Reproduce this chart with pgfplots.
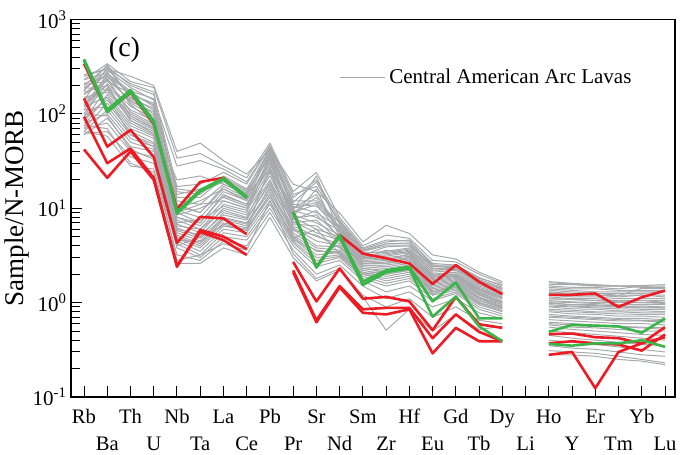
\documentclass[border=0pt]{standalone}
\usepackage{fontspec}
\setmainfont{Liberation Serif}
\usepackage{pgfplots}
\pgfplotsset{compat=1.18}
\definecolor{arcgray}{RGB}{167,169,172}
\definecolor{sred}{RGB}{237,28,36}
\definecolor{sgreen}{RGB}{57,181,74}
\pgfplotsset{
  gl/.style={arcgray, line width=0.5pt, line join=round},
  rl/.style={sred, line width=1.3pt, line join=round, forget plot},
  grl/.style={sgreen, line width=1.3pt, line join=round, forget plot},
}
\begin{document}
\begin{tikzpicture}
\useasboundingbox (-35.5pt,-29pt) rectangle (305pt,198.5pt);
\begin{axis}[
  scale only axis, width=302pt, height=188.75pt,
  at={(0,0)}, anchor=south west,
  xmin=-0.56, xmax=25.43,
  ymode=log, ymin=0.1, ymax=1000,
  unbounded coords=jump,
  axis line style={line width=0.75pt},
  tick align=inside, xtick pos=bottom, ytick pos=left,
  major tick length=5.5pt, minor tick length=4.5pt,
  tick style={black, line width=0.5pt},
  xtick={0,2,...,24},
  xticklabels={Rb,Th,Nb,La,Pb,Sr,Sm,Hf,Gd,Dy,Ho,Er,Yb},
  extra x ticks={1,3,...,25},
  extra x tick labels={\raisebox{-13pt}{Ba},\raisebox{-13pt}{U},\raisebox{-13pt}{Ta},\raisebox{-13pt}{Ce},\raisebox{-13pt}{Pr},\raisebox{-13pt}{Nd},\raisebox{-13pt}{Zr},\raisebox{-13pt}{Eu},\raisebox{-13pt}{Tb},\raisebox{-13pt}{Li},\raisebox{-13pt}{Y},\raisebox{-13pt}{Tm},\raisebox{-13pt}{Lu}},
  extra x tick style={grid=none},
  xticklabel style={anchor=base, yshift=-13.5pt, font=\fontsize{10.3}{12}\selectfont},
  ytick={0.1,1,10,100,1000},
  yticklabels={10\textsuperscript{-1},10\textsuperscript{0},10\textsuperscript{1},10\textsuperscript{2},10\textsuperscript{3}},
  minor ytick={0.2,0.3,0.4,0.5,0.6,0.7,0.8,0.9,2,3,4,5,6,7,8,9,20,30,40,50,60,70,80,90,200,300,400,500,600,700,800,900},
  yticklabel style={font=\fontsize{10.5}{12}\selectfont, xshift=1.5pt},
  ylabel={Sample/N-MORB},
  ylabel style={at={(axis description cs:-0.0894,0.5)}, anchor=center, font=\fontsize{13.5}{16}\selectfont},
  legend style={draw=none, fill=none, at={(0.4338,0.8458)}, anchor=west,
    font=\fontsize{10.5}{12}\selectfont},
  legend image code/.code={\draw[#1] (0pt,0pt) -- (22.5pt,0pt);},
]
\addlegendimage{gl}
\addlegendentry{Central American Arc Lavas}

% Central American arc lavas (Rb ... Dy, gap at Li, Ho ... Lu)
\addplot[gl, forget plot] coordinates {(0,250)(1,300)(2,250)(3,200)(4,40)(5,49)(6,32)(7,23)(8,42)(9,18)(10,15)(11,8.9)(12,4.4)(13,6.6)(14,5.4)(15,3.2)(16,2.9)(17,2.1)(18,1.67)(19,nan)(20,1.67)(21,1.6)(22,1.55)(23,1.5)(24,1.5)(25,1.5)};
\addplot[gl, forget plot] coordinates {(0,230)(1,340)(2,220)(3,190)(4,34)(5,38)(6,28)(7,21)(8,49)(9,15)(10,24)(11,8)(12,4)(13,5.2)(14,4.8)(15,2.8)(16,2.7)(17,2.0)(18,1.6)(19,nan)(20,1.55)(21,1.55)(22,1.5)(23,1.5)(24,1.45)(25,1.45)};
\addplot[gl, forget plot] coordinates {(0,200)(1,320)(2,200)(3,160)(4,17)(5,18)(6,24)(7,18)(8,45)(9,13)(10,20)(11,7.5)(12,3.8)(13,4.6)(14,4.5)(15,2.6)(16,2.5)(17,1.85)(18,1.5)(19,nan)(20,1.5)(21,1.45)(22,1.45)(23,1.4)(24,1.5)(25,1.4)};
\addplot[gl, forget plot] coordinates {(0,180)(1,290)(2,190)(3,140)(4,15)(5,14)(6,22)(7,16)(8,40)(9,12)(10,12)(11,7)(12,3.6)(13,4.2)(14,4.3)(15,2.4)(16,2.4)(17,1.75)(18,1.45)(19,nan)(20,1.45)(21,1.4)(22,1.4)(23,1.35)(24,1.35)(25,1.35)};
\addplot[gl, forget plot] coordinates {(0,160)(1,270)(2,160)(3,130)(4,14)(5,16)(6,20)(7,15)(8,35)(9,11)(10,10.5)(11,6.5)(12,3.5)(13,4)(14,4)(15,2.3)(16,2.3)(17,1.7)(18,1.4)(19,nan)(20,1.4)(21,1.35)(22,1.3)(23,1.3)(24,1.3)(25,1.3)};
\addplot[gl, forget plot] coordinates {(0,210)(1,250)(2,170)(3,120)(4,12)(5,11)(6,18)(7,14)(8,38)(9,10.5)(10,9)(11,6.2)(12,3.3)(13,3.5)(14,3.8)(15,2.2)(16,2.3)(17,1.6)(18,1.35)(19,nan)(20,1.35)(21,1.3)(22,1.25)(23,1.25)(24,1.25)(25,1.3)};
\addplot[gl, forget plot] coordinates {(0,140)(1,310)(2,150)(3,110)(4,11)(5,9)(6,17)(7,13)(8,44)(9,10)(10,14)(11,6)(12,3.2)(13,3.3)(14,3.6)(15,2.1)(16,2.2)(17,1.55)(18,1.3)(19,nan)(20,1.3)(21,1.25)(22,1.25)(23,1.2)(24,1.2)(25,1.2)};
\addplot[gl, forget plot] coordinates {(0,120)(1,230)(2,140)(3,100)(4,10)(5,12)(6,16)(7,12.5)(8,30)(9,9.5)(10,8)(11,5.8)(12,3.1)(13,3.2)(14,3.5)(15,2)(16,2.1)(17,1.5)(18,1.28)(19,nan)(20,1.25)(21,1.2)(22,1.2)(23,1.15)(24,1.2)(25,1.15)};
\addplot[gl, forget plot] coordinates {(0,190)(1,260)(2,130)(3,95)(4,9.5)(5,8)(6,15)(7,12)(8,32)(9,9)(10,11)(11,5.5)(12,3)(13,3.1)(14,3.4)(15,1.95)(16,2.1)(17,1.45)(18,1.25)(19,nan)(20,1.2)(21,1.15)(22,1.15)(23,1.1)(24,1.1)(25,1.1)};
\addplot[gl, forget plot] coordinates {(0,100)(1,210)(2,120)(3,90)(4,9)(5,7)(6,14)(7,11)(8,27)(9,8.5)(10,7)(11,5.2)(12,2.9)(13,3)(14,3.2)(15,1.9)(16,2)(17,1.4)(18,1.2)(19,nan)(20,1.15)(21,1.1)(22,1.1)(23,1.05)(24,1.05)(25,1.05)};
\addplot[gl, forget plot] coordinates {(0,170)(1,200)(2,110)(3,85)(4,8.5)(5,10)(6,13)(7,10.5)(8,36)(9,8)(10,6)(11,5)(12,2.8)(13,2.9)(14,3.1)(15,1.85)(16,2)(17,1.38)(18,1.15)(19,nan)(20,1.1)(21,1.08)(22,1.05)(23,1.05)(24,1)(25,1.05)};
\addplot[gl, forget plot] coordinates {(0,90)(1,280)(2,125)(3,80)(4,8)(5,6.5)(6,12)(7,10)(8,25)(9,7.5)(10,9.5)(11,4.8)(12,2.7)(13,2.8)(14,3)(15,1.8)(16,1.95)(17,1.35)(18,1.12)(19,nan)(20,1.05)(21,1.02)(22,1)(23,1)(24,1)(25,0.98)};
\addplot[gl, forget plot] coordinates {(0,130)(1,180)(2,100)(3,75)(4,7.5)(5,6)(6,11)(7,9.5)(8,22)(9,7.2)(10,5.5)(11,4.6)(12,2.6)(13,2.7)(14,2.9)(15,1.75)(16,1.9)(17,1.3)(18,1.1)(19,nan)(20,1.02)(21,1)(22,0.98)(23,0.95)(24,0.95)(25,0.95)};
\addplot[gl, forget plot] coordinates {(0,110)(1,240)(2,95)(3,70)(4,7)(5,7.5)(6,10.5)(7,9)(8,34)(9,7)(10,7.5)(11,4.5)(12,2.6)(13,2.6)(14,2.8)(15,1.7)(16,1.85)(17,1.28)(18,1.05)(19,nan)(20,1)(21,0.95)(22,0.95)(23,0.92)(24,0.92)(25,0.9)};
\addplot[gl, forget plot] coordinates {(0,150)(1,170)(2,90)(3,68)(4,6.8)(5,5.5)(6,10)(7,8.5)(8,20)(9,6.8)(10,6.5)(11,4.4)(12,2.5)(13,2.5)(14,2.7)(15,1.65)(16,1.8)(17,1.25)(18,1.02)(19,nan)(20,0.95)(21,0.92)(22,0.9)(23,0.9)(24,0.88)(25,0.88)};
\addplot[gl, forget plot] coordinates {(0,85)(1,190)(2,85)(3,65)(4,6.5)(5,6)(6,9.5)(7,8)(8,24)(9,6.5)(10,5)(11,4.2)(12,2.5)(13,2.4)(14,2.6)(15,1.6)(16,1.75)(17,1.22)(18,1)(19,nan)(20,0.92)(21,0.9)(22,0.88)(23,0.86)(24,0.85)(25,0.85)};
\addplot[gl, forget plot] coordinates {(0,75)(1,160)(2,80)(3,60)(4,6.2)(5,5)(6,9)(7,7.8)(8,18)(9,6.2)(10,4.5)(11,4)(12,2.4)(13,2.3)(14,2.5)(15,1.55)(16,1.7)(17,1.2)(18,0.98)(19,nan)(20,0.9)(21,0.86)(22,0.85)(23,0.82)(24,0.82)(25,0.8)};
\addplot[gl, forget plot] coordinates {(0,120)(1,150)(2,75)(3,58)(4,6)(5,5.2)(6,8.5)(7,7.5)(8,19)(9,6)(10,4)(11,3.9)(12,2.3)(13,2.2)(14,2.4)(15,1.5)(16,1.65)(17,1.15)(18,0.95)(19,nan)(20,0.85)(21,0.83)(22,0.8)(23,0.8)(24,0.78)(25,0.78)};
\addplot[gl, forget plot] coordinates {(0,95)(1,140)(2,70)(3,55)(4,5.8)(5,4.8)(6,8)(7,7)(8,16)(9,5.8)(10,5.2)(11,3.8)(12,2.3)(13,2.1)(14,2.3)(15,1.45)(16,1.6)(17,1.12)(18,0.92)(19,nan)(20,0.82)(21,0.8)(22,0.78)(23,0.76)(24,0.75)(25,0.75)};
\addplot[gl, forget plot] coordinates {(0,70)(1,130)(2,65)(3,50)(4,5.5)(5,4.5)(6,7.8)(7,6.8)(8,15)(9,5.5)(10,3.8)(11,3.6)(12,2.2)(13,2)(14,2.2)(15,1.4)(16,1.55)(17,1.1)(18,0.9)(19,nan)(20,0.8)(21,0.76)(22,0.75)(23,0.72)(24,0.72)(25,0.7)};
\addplot[gl, forget plot] coordinates {(0,110)(1,120)(2,60)(3,48)(4,5.2)(5,4.2)(6,7.5)(7,6.5)(8,17)(9,5.2)(10,3.5)(11,3.5)(12,2.1)(13,1.9)(14,2.1)(15,1.35)(16,1.5)(17,1.05)(18,0.88)(19,nan)(20,0.75)(21,0.72)(22,0.7)(23,0.68)(24,0.68)(25,0.66)};
\addplot[gl, forget plot] coordinates {(0,65)(1,110)(2,55)(3,45)(4,5)(5,4)(6,7)(7,6.2)(8,14)(9,5)(10,3.2)(11,3.4)(12,2)(13,1.8)(14,2)(15,1.3)(16,1.45)(17,1)(18,0.85)(19,nan)(20,0.7)(21,0.68)(22,0.66)(23,0.64)(24,0.64)(25,0.62)};
\addplot[gl, forget plot] coordinates {(0,80)(1,100)(2,50)(3,42)(4,4.8)(5,3.8)(6,6.5)(7,6)(8,13)(9,4.8)(10,3)(11,3.2)(12,2)(13,1.7)(14,1.9)(15,1.25)(16,1.4)(17,0.98)(18,0.82)(19,nan)(20,0.66)(21,0.64)(22,0.62)(23,0.6)(24,0.6)(25,0.58)};
\addplot[gl, forget plot] coordinates {(0,60)(1,90)(2,45)(3,40)(4,4.5)(5,3.5)(6,6)(7,5.5)(8,12)(9,4.5)(10,2.8)(11,3.1)(12,1.9)(13,1.6)(14,1.8)(15,1.2)(16,1.35)(17,0.95)(18,0.8)(19,nan)(20,0.62)(21,0.6)(22,0.58)(23,0.56)(24,0.55)(25,0.54)};
\addplot[gl, forget plot] coordinates {(0,70)(1,80)(2,40)(3,35)(4,4.2)(5,3.2)(6,5.5)(7,5)(8,11)(9,4.3)(10,2.6)(11,3)(12,1.8)(13,1.5)(14,1.7)(15,1.1)(16,1.3)(17,0.9)(18,0.76)(19,nan)(20,0.58)(21,0.55)(22,0.54)(23,0.52)(24,0.5)(25,0.5)};
\addplot[gl, forget plot] coordinates {(0,62)(1,65)(2,35)(3,30)(4,3.8)(5,3)(6,5)(7,4.6)(8,10)(9,4)(10,2.4)(11,2.8)(12,1.7)(13,1.3)(14,1.5)(15,1.05)(16,1.25)(17,0.85)(18,0.72)(19,nan)(20,0.55)(21,0.52)(22,0.5)(23,0.48)(24,0.46)(25,0.45)};
\addplot[gl, forget plot] coordinates {(0,65)(1,58)(2,28)(3,26)(4,3.2)(5,2.8)(6,4.5)(7,4)(8,9)(9,3.6)(10,2)(11,2.5)(12,1.5)(13,1.1)(14,1.3)(15,0.9)(16,1.1)(17,0.78)(18,0.68)(19,nan)(20,0.5)(21,0.48)(22,0.46)(23,0.44)(24,0.42)(25,0.4)};
\addplot[gl, forget plot] coordinates {(0,75)(1,70)(2,30)(3,24)(4,2.6)(5,2.6)(6,3.8)(7,3.2)(8,8)(9,3)(10,1.7)(11,2.2)(12,1.2)(13,0.9)(14,1.1)(15,0.7)(16,0.9)(17,0.65)(18,0.6)(19,nan)(20,0.45)(21,0.42)(22,0.4)(23,0.38)(24,0.36)(25,0.35)};
\addplot[gl, forget plot] coordinates {(0,100)(1,95)(2,42)(3,33)(4,2.8)(5,3.2)(6,4.2)(7,3.6)(8,12)(9,3.3)(10,1.8)(11,2.3)(12,1.15)(13,0.51)(14,0.85)(15,0.5)(16,0.75)(17,0.52)(18,0.56)(19,nan)(20,0.4)(21,0.38)(22,0.36)(23,0.34)(24,0.32)(25,0.3)};
\addplot[gl, forget plot] coordinates {(0,140)(1,200)(2,85)(3,62)(4,4)(5,5)(6,6.5)(7,5.8)(8,28)(9,4.8)(10,6)(11,3.3)(12,2)(13,2)(14,2.2)(15,1.3)(16,1.5)(17,1.05)(18,0.9)(19,nan)(20,0.35)(21,0.33)(22,0.32)(23,0.3)(24,0.28)(25,0.27)};
\addplot[gl, forget plot] coordinates {(0,160)(1,230)(2,105)(3,78)(4,9)(5,11)(6,12)(7,10)(8,30)(9,7.8)(10,8.5)(11,5)(12,2.9)(13,3.6)(14,3.3)(15,1.2)(16,1.7)(17,1.1)(18,1)(19,nan)(20,0.31)(21,0.3)(22,0.29)(23,0.27)(24,0.25)(25,0.23)};
\addplot[gl, forget plot] coordinates {(0,190)(1,180)(2,95)(3,72)(4,20)(5,22)(6,18)(7,14)(8,26)(9,9)(10,13)(11,5.8)(12,3.2)(13,3.9)(14,4)(15,2.5)(16,2.3)(17,1.6)(18,1.3)(19,nan)(20,0.28)(21,0.28)(22,0.27)(23,0.25)(24,0.24)(25,0.22)};
\addplot[gl, forget plot] coordinates {(0,230)(1,270)(2,175)(3,145)(4,28)(5,32)(6,26)(7,19)(8,46)(9,14)(10,17)(11,7.2)(12,3.7)(13,4.4)(14,4.6)(15,2.5)(16,2.5)(17,1.8)(18,1.55)(19,nan)(20,1.62)(21,1.58)(22,1.52)(23,1.5)(24,1.52)(25,1.55)};
\addplot[gl, forget plot] coordinates {(0,175)(1,330)(2,145)(3,115)(4,10.5)(5,9)(6,16)(7,12)(8,40)(9,9.5)(10,22)(11,5.6)(12,3.1)(13,2.8)(14,3.3)(15,2)(16,2)(17,1.4)(18,1.2)(19,nan)(20,1.28)(21,1.22)(22,1.2)(23,1.18)(24,1.42)(25,1.42)};
\addplot[gl, forget plot] coordinates {(0,125)(1,250)(2,135)(3,105)(4,8)(5,7)(6,13.5)(7,11)(8,33)(9,8.2)(10,16)(11,5)(12,2.8)(13,2.6)(14,3)(15,1.9)(16,1.9)(17,1.35)(18,1.15)(19,nan)(20,0.98)(21,0.95)(22,0.93)(23,0.9)(24,0.9)(25,0.88)};
\addplot[gl, forget plot] coordinates {(0,85)(1,150)(2,60)(3,45)(4,4.6)(5,4.4)(6,6.8)(7,5.8)(8,14)(9,4.6)(10,3.6)(11,3.3)(12,2)(13,2.2)(14,2.4)(15,1.3)(16,1.45)(17,1)(18,0.86)(19,nan)(20,0.6)(21,0.58)(22,0.57)(23,0.55)(24,0.54)(25,0.52)};
\addplot[gl, forget plot] coordinates {(0,260)(1,300)(2,210)(3,170)(4,13)(5,13)(6,21)(7,15.5)(8,43)(9,11.5)(10,19)(11,6.8)(12,3.4)(13,3.4)(14,3.7)(15,2.2)(16,2.25)(17,1.65)(18,1.42)(19,nan)(20,1.1)(21,1.08)(22,1.05)(23,1.02)(24,1)(25,1)};
\addplot[gl, forget plot] coordinates {(0,205)(1,220)(2,165)(3,125)(4,16)(5,15)(6,19)(7,14.5)(8,37)(9,10)(10,11.5)(11,6.3)(12,3.5)(13,4.2)(14,4.2)(15,2.3)(16,2.35)(17,1.7)(18,1.38)(19,nan)(20,0.72)(21,0.7)(22,0.68)(23,0.66)(24,0.65)(25,0.64)};

% samples of this study, red group
\addplot[rl] coordinates {(0,340)(1,106)(2,168)(3,78)(4,9.8)(5,19)(6,21)(7,13)(8,nan)(9,9.1)(10,2.4)(11,5.2)(12,3.3)(13,2.95)(14,2.6)(15,1.58)(16,2.5)(17,1.66)(18,1.23)(19,nan)(20,1.21)(21,1.21)(22,1.25)(23,0.9)(24,1.14)(25,1.34)};
\addplot[rl] coordinates {(0,146)(1,45)(2,67.5)(3,35)(4,4.3)(5,8.1)(6,7.8)(7,5.3)(8,nan)(9,2.7)(10,1.03)(11,2.3)(12,1.1)(13,1.15)(14,1.03)(15,0.51)(16,1.15)(17,0.59)(18,0.54)(19,nan)(20,0.464)(21,0.47)(22,0.43)(23,0.42)(24,0.37)(25,0.55)};
\addplot[rl] coordinates {(0,93)(1,30)(2,43)(3,21)(4,2.4)(5,5.9)(6,5)(7,3.7)(8,nan)(9,2.2)(10,0.65)(11,1.5)(12,0.85)(13,0.88)(14,0.88)(15,0.42)(16,0.75)(17,0.49)(18,0.39)(19,nan)(20,0.37)(21,0.39)(22,0.37)(23,0.36)(24,0.31)(25,0.46)};
\addplot[rl] coordinates {(0,42)(1,21)(2,40)(3,20)(4,2.45)(5,5.6)(6,4.6)(7,3.2)(8,nan)(9,2.1)(10,0.62)(11,1.45)(12,0.78)(13,0.75)(14,0.85)(15,0.29)(16,0.54)(17,0.39)(18,0.39)(19,nan)(20,0.28)(21,0.3)(22,0.124)(23,0.3)(24,0.37)(25,0.43)};

% samples of this study, green group
\addplot[grl] coordinates {(0,380)(1,110)(2,179)(3,84)(4,9.2)(5,15.6)(6,20.8)(7,13.3)(8,nan)(9,9.2)(10,2.4)(11,5.2)(12,1.67)(13,2.2)(14,2.4)(15,1.03)(16,1.63)(17,0.68)(18,0.68)(19,nan)(20,0.49)(21,0.58)(22,0.57)(23,0.56)(24,0.48)(25,0.68)};
\addplot[grl] coordinates {(0,365)(1,104)(2,170)(3,80)(4,8.8)(5,15)(6,20.2)(7,12.8)(8,nan)(9,9)(10,2.35)(11,5)(12,1.54)(13,2.1)(14,2.3)(15,0.71)(16,1.16)(17,0.56)(18,0.39)(19,nan)(20,0.365)(21,0.35)(22,0.37)(23,0.37)(24,0.4)(25,0.34)};

\node[font=\fontsize{14}{17}\selectfont, anchor=center] at (rel axis cs:0.0886,0.9205) {(c)};
\end{axis}
\end{tikzpicture}
\end{document}
